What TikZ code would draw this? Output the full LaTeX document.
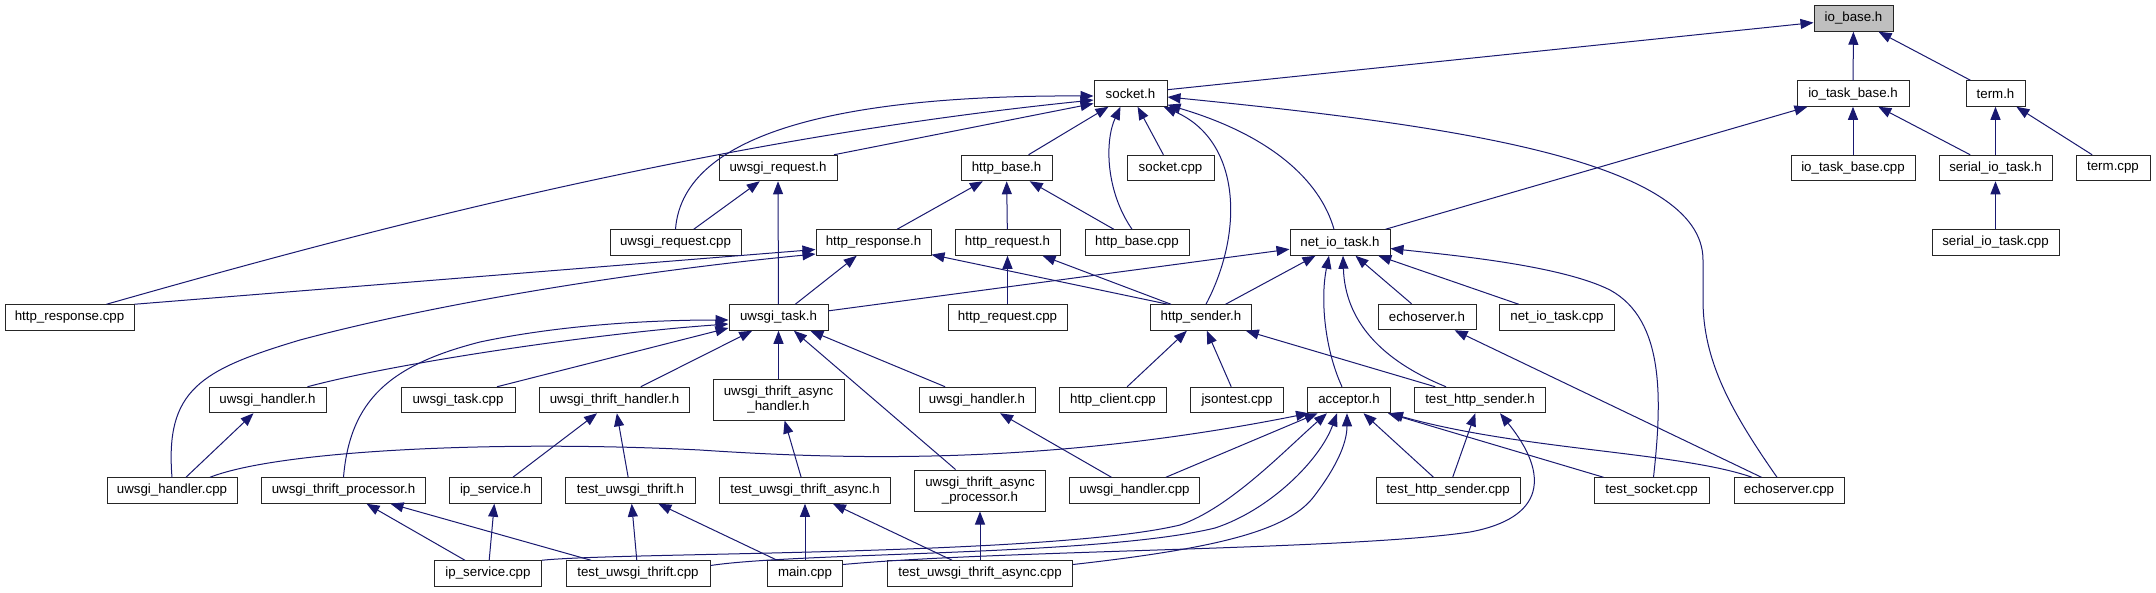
\documentclass[tikz,border=0pt]{standalone}
\usepackage{fontspec}
\setmainfont{Liberation Sans}
\usetikzlibrary{arrows.meta}
\definecolor{edgeblue}{HTML}{191970}
\definecolor{boxgray}{HTML}{BFBFBF}
\begin{document}
\begin{tikzpicture}[x=1pt,y=-1pt,
  filebox/.style={draw=black!85, line width=1pt, fill=white, minimum height=25.5pt, inner sep=0pt, font=\fontsize{13.3}{15}\selectfont},
  twoline/.style={filebox, minimum height=41pt, align=center},
  incl/.style={draw=edgeblue, line width=1pt, -{Triangle[length=13pt,width=10pt]}}
]
\fill[white] (0,0) rectangle (2156,592);
\useasboundingbox (0,0) rectangle (2156,592);

% row 0
\node[filebox, fill=boxgray, minimum width=79pt] (iobase) at (1853.5,18.5) {io\_base.h};
% row 1
\node[filebox, minimum width=73pt] (socketh) at (1130.5,93.5) {socket.h};
\node[filebox, minimum width=112pt] (iotaskbaseh) at (1853,93.5) {io\_task\_base.h};
\node[filebox, minimum width=59pt] (termh) at (1995.5,93.5) {term.h};
% row 2
\node[filebox, minimum width=118pt] (uwsgirequesth) at (778,168) {uwsgi\_request.h};
\node[filebox, minimum width=91pt] (httpbaseh) at (1006.5,168) {http\_base.h};
\node[filebox, minimum width=87pt] (socketcpp) at (1170.5,168) {socket.cpp};
\node[filebox, minimum width=124pt] (iotaskbasecpp) at (1853,168) {io\_task\_base.cpp};
\node[filebox, minimum width=113pt] (serialiotaskh) at (1995.5,168) {serial\_io\_task.h};
\node[filebox, minimum width=74pt] (termcpp) at (2113,168) {term.cpp};
% row 3
\node[filebox, minimum width=131pt] (uwsgirequestcpp) at (675.5,242.5) {uwsgi\_request.cpp};
\node[filebox, minimum width=115pt] (httpresponseh) at (873.5,242.5) {http\_response.h};
\node[filebox, minimum width=105pt] (httprequesth) at (1007.5,242.5) {http\_request.h};
\node[filebox, minimum width=104pt] (httpbasecpp) at (1137,242.5) {http\_base.cpp};
\node[filebox, minimum width=100pt] (netiotaskh) at (1340,242.5) {net\_io\_task.h};
\node[filebox, minimum width=127pt] (serialiotaskcpp) at (1995.5,242.5) {serial\_io\_task.cpp};
% row 4
\node[filebox, minimum width=129pt] (httpresponsecpp) at (69.5,317.5) {http\_response.cpp};
\node[filebox, minimum width=99pt] (uwsgitaskh) at (778.5,317.5) {uwsgi\_task.h};
\node[filebox, minimum width=119pt] (httprequestcpp) at (1007.5,317.5) {http\_request.cpp};
\node[filebox, minimum width=101pt] (httpsenderh) at (1201,317.5) {http\_sender.h};
\node[filebox, minimum width=98pt] (echoserverh) at (1427,317) {echoserver.h};
\node[filebox, minimum width=115pt] (netiotaskcpp) at (1557,317.5) {net\_io\_task.cpp};
% row 5
\node[filebox, minimum width=117pt] (uwsgihandlerhL) at (267.5,400) {uwsgi\_handler.h};
\node[filebox, minimum width=114pt] (uwsgitaskcpp) at (458,400) {uwsgi\_task.cpp};
\node[filebox, minimum width=150pt] (uwsgithrifthandlerh) at (614.5,400) {uwsgi\_thrift\_handler.h};
\node[twoline, minimum width=131pt] (uwsgithriftasynchandlerh) at (778.5,399.5) {uwsgi\_thrift\_async\\\_handler.h};
\node[filebox, minimum width=116pt] (uwsgihandlerhM) at (977,400) {uwsgi\_handler.h};
\node[filebox, minimum width=107pt] (httpclientcpp) at (1113,400) {http\_client.cpp};
\node[filebox, minimum width=93pt] (jsontestcpp) at (1237,400) {jsontest.cpp};
\node[filebox, minimum width=83pt] (acceptorh) at (1349,400) {acceptor.h};
\node[filebox, minimum width=131pt] (testhttpsenderh) at (1480,400) {test\_http\_sender.h};
% row 6
\node[filebox, minimum width=130pt] (uwsgihandlercppL) at (172,490.5) {uwsgi\_handler.cpp};
\node[filebox, minimum width=164pt] (uwsgithriftprocessorh) at (343.5,490.5) {uwsgi\_thrift\_processor.h};
\node[filebox, minimum width=92pt] (ipserviceh) at (495.5,490.5) {ip\_service.h};
\node[filebox, minimum width=130pt] (testuwsgithrifth) at (630.5,490.5) {test\_uwsgi\_thrift.h};
\node[filebox, minimum width=171pt] (testuwsgithriftasynch) at (805,490.5) {test\_uwsgi\_thrift\_async.h};
\node[twoline, minimum width=131pt] (uwsgithriftasyncprocessorh) at (980,490.5) {uwsgi\_thrift\_async\\\_processor.h};
\node[filebox, minimum width=130pt] (uwsgihandlercppM) at (1134.5,490.5) {uwsgi\_handler.cpp};
\node[filebox, minimum width=144pt] (testhttpsendercpp) at (1448,490.5) {test\_http\_sender.cpp};
\node[filebox, minimum width=115pt] (testsocketcpp) at (1651.5,490.5) {test\_socket.cpp};
\node[filebox, minimum width=110pt] (echoservercpp) at (1789,490.5) {echoserver.cpp};
% row 7
\node[filebox, minimum width=107pt] (ipservicecpp) at (488,573.5) {ip\_service.cpp};
\node[filebox, minimum width=144pt] (testuwsgithriftcpp) at (638,573.5) {test\_uwsgi\_thrift.cpp};
\node[filebox, minimum width=75pt] (maincpp) at (805,573.5) {main.cpp};
\node[filebox, minimum width=185pt] (testuwsgithriftasynccpp) at (980,573.5) {test\_uwsgi\_thrift\_async.cpp};

% io_base.h and friends
\draw[incl] (socketh) -- (iobase);
\draw[incl] (iotaskbaseh) -- (iobase);
\draw[incl] (termh) -- (iobase);
\draw[incl] (iotaskbasecpp) -- (iotaskbaseh);
\draw[incl] (serialiotaskh) -- (iotaskbaseh);
\draw[incl] (netiotaskh) -- (iotaskbaseh);
\draw[incl] (serialiotaskh) -- (termh);
\draw[incl] (termcpp) -- (termh);
\draw[incl] (serialiotaskcpp) -- (serialiotaskh);

% socket.h
\draw[incl] (uwsgirequestcpp.north) .. controls (683,130) and (850,95) .. ([yshift=-2.5pt]socketh.west);
\draw[incl] ([xshift=37pt]httpresponsecpp.north) .. controls (350,235) and (700,140) .. ([yshift=-6.5pt]socketh.west);
\draw[incl] ([xshift=56pt]uwsgirequesth.north) -- ([yshift=-10pt]socketh.west);
\draw[incl] (httpbaseh) -- (socketh);
\draw[incl] ([xshift=-5pt]httpbasecpp.north) .. controls (1105,190) and (1105,140) .. ([xshift=-10pt]socketh.south);
\draw[incl] (socketcpp) -- (socketh);
\draw[incl] ([xshift=5pt]httpsenderh.north) .. controls (1245,230) and (1240,140) .. ([xshift=-4pt]socketh.south east);
\draw[incl] ([xshift=-6pt]netiotaskh.north) .. controls (1320,180) and (1270,135) .. ([yshift=2pt]socketh.south east);
\draw[incl] ([xshift=-12pt]echoservercpp.north) .. controls (1730,410) and (1703,360) .. (1703,300) -- (1703,260) .. controls (1703,160) and (1450,125) .. ([yshift=-3.5pt]socketh.east);

% uwsgi_request.h, http_base.h
\draw[incl] (uwsgirequestcpp) -- (uwsgirequesth);
\draw[incl] (uwsgitaskh) -- (uwsgirequesth);
\draw[incl] (httpresponseh) -- (httpbaseh);
\draw[incl] (httprequesth) -- (httpbaseh);
\draw[incl] (httpbasecpp) -- (httpbaseh);

% http_response.h, http_request.h
\draw[incl] (httpresponsecpp.north east) -- ([yshift=-7pt]httpresponseh.west);
\draw[incl] (uwsgihandlercppL.north) .. controls (165,390) and (200,370) .. (300,340) .. controls (450,300) and (650,270) .. ([yshift=-11.5pt]httpresponseh.west);
\draw[incl] (uwsgitaskh) -- (httpresponseh);
\draw[incl] ([xshift=-33pt]httpsenderh.north) -- (httpresponseh);
\draw[incl] (httprequestcpp) -- (httprequesth);
\draw[incl] ([xshift=-30pt]httpsenderh.north) -- (httprequesth);

% net_io_task.h
\draw[incl] (uwsgitaskh) -- (netiotaskh);
\draw[incl] (httpsenderh) -- (netiotaskh);
\draw[incl] ([xshift=-7pt]acceptorh.north) .. controls (1325,350) and (1320,300) .. ([xshift=-11pt]netiotaskh.south);
\draw[incl] ([xshift=-34pt]testhttpsenderh.north) .. controls (1380,360) and (1345,320) .. ([xshift=3pt]netiotaskh.south);
\draw[incl] (echoserverh) -- (netiotaskh);
\draw[incl] (netiotaskcpp) -- (netiotaskh);
\draw[incl] ([xshift=2pt]testsocketcpp.north) .. controls (1662,400) and (1665,320) .. (1610,290) .. controls (1560,265) and (1450,255) .. ([yshift=-6pt]netiotaskh.east);

% uwsgi_task.h
\draw[incl] ([xshift=40pt]uwsgihandlerhL.north) .. controls (400,362) and (600,333) .. ([yshift=-6.5pt]uwsgitaskh.west);
\draw[incl] ([xshift=39pt]uwsgitaskcpp.north) -- ([yshift=-10.5pt]uwsgitaskh.west);
\draw[incl] (uwsgithrifthandlerh) -- (uwsgitaskh);
\draw[incl] (uwsgithriftprocessorh.north) .. controls (350,400) and (390,365) .. (480,342) .. controls (560,325) and (650,320) .. ([yshift=-2.5pt]uwsgitaskh.west);
\draw[incl] (uwsgithriftasynchandlerh) -- (uwsgitaskh);
\draw[incl] (uwsgihandlerhM) -- (uwsgitaskh);
\draw[incl] (uwsgithriftasyncprocessorh) -- (uwsgitaskh);

% lower levels
\draw[incl] (uwsgihandlercppL) -- (uwsgihandlerhL);
\draw[incl] (ipserviceh) -- (uwsgithrifthandlerh);
\draw[incl] (testuwsgithrifth) -- (uwsgithrifthandlerh);
\draw[incl] (ipservicecpp) -- (uwsgithriftprocessorh);
\draw[incl] (testuwsgithriftcpp) -- (uwsgithriftprocessorh);
\draw[incl] (ipservicecpp) -- (ipserviceh);
\draw[incl] (testuwsgithriftcpp) -- (testuwsgithrifth);
\draw[incl] (maincpp) -- (testuwsgithrifth);
\draw[incl] (testuwsgithriftasynch) -- (uwsgithriftasynchandlerh);
\draw[incl] (uwsgihandlercppM) -- (uwsgihandlerhM);
\draw[incl] (maincpp) -- (testuwsgithriftasynch);
\draw[incl] (testuwsgithriftasynccpp) -- (testuwsgithriftasynch);
\draw[incl] (testuwsgithriftasynccpp) -- (uwsgithriftasyncprocessorh);
\draw[incl] (httpclientcpp) -- (httpsenderh);
\draw[incl] (jsontestcpp) -- (httpsenderh);
\draw[incl] (testhttpsenderh) -- (httpsenderh);
\draw[incl] (echoservercpp) -- (echoserverh);

% acceptor.h
\draw[incl] ([xshift=38pt]uwsgihandlercppL.north) .. controls (280,450) and (500,440) .. (700,450) .. controls (850,460) and (1050,465) .. ([xshift=-40pt]acceptorh.south);
\draw[incl] (uwsgihandlercppM) -- (acceptorh);
\draw[incl] (ipservicecpp.north east) .. controls (620,552) and (1050,556) .. (1180,525) .. controls (1230,508) and (1285,450) .. ([xshift=-22pt]acceptorh.south);
\draw[incl] ([yshift=8pt]testuwsgithriftcpp.east) .. controls (800,552) and (1100,556) .. (1215,528) .. controls (1270,510) and (1320,460) .. ([xshift=-12pt]acceptorh.south);
\draw[incl] ([yshift=9pt]testuwsgithriftasynccpp.east) .. controls (1220,548) and (1290,530) .. (1315,495) .. controls (1340,462) and (1347,440) .. ([xshift=-2pt]acceptorh.south);
\draw[incl] (testhttpsendercpp) -- (acceptorh);
\draw[incl] ([xshift=-48pt]testsocketcpp.north) -- ([xshift=-3pt]acceptorh.south east);
\draw[incl] ([xshift=-37pt]echoservercpp.north) .. controls (1680,452) and (1520,450) .. ([xshift=-1pt]acceptorh.south east);

% test_http_sender.h
\draw[incl] (testhttpsendercpp) -- (testhttpsenderh);
\draw[incl] ([yshift=9pt]maincpp.east) .. controls (1000,550) and (1350,550) .. (1470,532) .. controls (1545,518) and (1550,475) .. ([xshift=20pt]testhttpsenderh.south);
\end{tikzpicture}
\end{document}
